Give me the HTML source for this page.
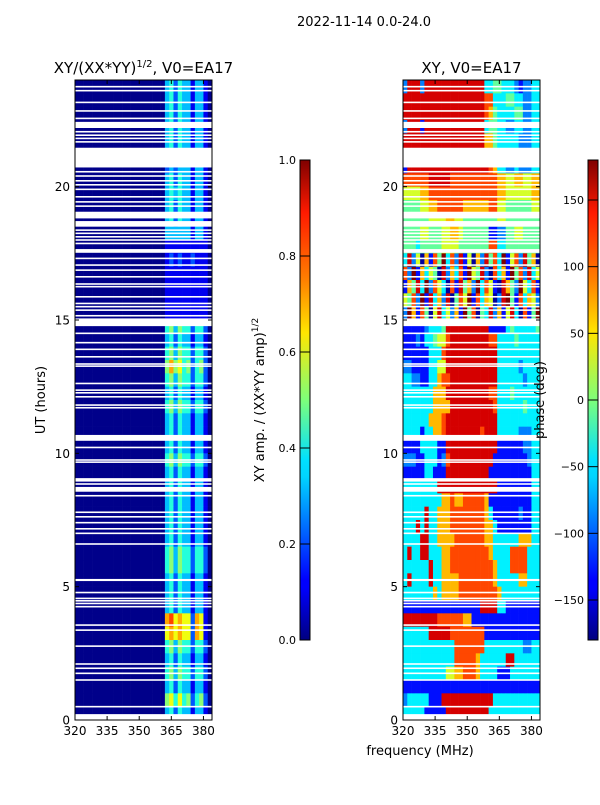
<!DOCTYPE html>
<html><head><meta charset="utf-8"><style>
body{margin:0;background:#fff;}
svg text{font-family:"DejaVu Sans","Liberation Sans",sans-serif;}
</style></head><body>
<svg id="chart" width="600" height="800" xmlns="http://www.w3.org/2000/svg">
<defs>
<linearGradient id="jet" x1="0" y1="1" x2="0" y2="0">
<stop offset="0" stop-color="#000080"/><stop offset="0.11" stop-color="#0000ff"/><stop offset="0.125" stop-color="#0000ff"/>
<stop offset="0.34" stop-color="#00d4ff"/><stop offset="0.375" stop-color="#00e0ff"/><stop offset="0.5" stop-color="#7dff7a"/>
<stop offset="0.64" stop-color="#ffe600"/><stop offset="0.75" stop-color="#ff8000"/><stop offset="0.89" stop-color="#ff1a00"/><stop offset="1" stop-color="#800000"/>
</linearGradient>
</defs>
<text x="364" y="26" font-size="13" text-anchor="middle">2022-11-14 0.0-24.0</text>
<g id="left"></g><g id="right"></g>
</svg>
<script>
const freqStart = 320, freqStep = 2;
const xTicks = [320, 335, 350, 365, 380];
const yTicks = [0, 5, 10, 15, 20];
const ampTicks = [0.0, 0.2, 0.4, 0.6, 0.8, 1.0];
const phaseTicks = [-150, -100, -50, 0, 50, 100, 150];
const Z = "000000000000000000000";
const ampRows = [
Z+"34243313310",Z+"34243313310",Z+"34243313310",Z+"34243313310",Z+"34243313310",Z+"34243313310",
Z+"23233313310",Z+"34243313310",Z+"34343313310",Z+"34243313310",Z+"34243313310",Z+"33333313310",
Z+"11111111110",Z+"12121121110",Z+"11111111110",Z+"11111111110",Z+"11111111110",Z+"11111111110",
Z+"45354424420",Z+"34243313310",Z+"45354424420",Z+"57564524520",Z+"45354424420",Z+"34243313310",
Z+"45354424420",Z+"34243313310",Z+"34243313310",Z+"34243313310",Z+"45354424420",Z+"34243313310",
Z+"34243313310",Z+"34243313310",Z+"34243313310",Z+"34243313310",Z+"34243313310",Z+"45354424420",
Z+"45354424420",Z+"34243313310",Z+"34243313310",Z+"34243313310",Z+"78676627610",Z+"67676627610",
Z+"45354424420",Z+"34243313310",Z+"45354424420",Z+"34243313310",Z+"56464524520",Z+"34243313310"];
const phaseRows = [
"28882888888888888883344333212233","88888888888888888887733344332233","88888888888888888887643333442233",
"28881888888888888883443322332233","88888888888888888886643333322233","88888888888888888886643333322233",
"18888888888888888888763322322233","77777788888777777777776655665566","55556677777777777777776655555566",
"44445566777777666666775544444455","44444455556655444444445544444444","44445544455665444444112244554444",
"44434444455554444444773344444444","38250617493728150628473915728460","72916354082637195482073619472835",
"16483927530718462937510864295371","54729183628047591736502894173652","29617405835261947043826158307149",
"11111233348888888888111134333334","11121334557888888888773333433333","11111133378888888888883333333333",
"22111133558888888888883333323333","33221133677888888888883333332333","33333336668888888888773334333333",
"33333336666888888888873333334333","33333366678888888888883333333333","33331336678888888878883333322233",
"11113333118888888888881111112233","22211333127888888888811111111233","11111331118888888888111111111133",
"33333333888888888888881111111133","33333333366766777776111111111133","33333833666777777776311111121133",
"33383833666777777776631111111133","33338833666677777776633333366633","38338833366777777777633337777333",
"33333383366777777777763337777333","38333383366667777777763333366333","33333336366667777777776333333333",
"11111111111111111188883311111111","88888888777777661111111111111111","33333388888777777771111111111111",
"33333333333377777773333333332233","33333333333377777633333388333333","33333333335566777633331113333333",
"11111111111111111111111111111111","23333311188888888888833333333333","33333111118888888888333333333333"];
const gapBlocks = [[22.2,22.43],[20.72,21.46],[18.81,19.06],[18.5,18.71],[17.52,17.66],[14.77,15.06],[10.47,10.69],[8.94,9.07],[8.56,8.74],[5.21,5.29],[4.75,4.81],[1.47,1.53],[0,0.22]];
const gapLines = [23.75,23.6,23.16,22.84,22.56,22.06,21.93,21.81,21.68,20.56,20.4,20.22,20.07,19.9,19.62,19.43,19.27,18.37,18.25,18.12,18.0,17.87,17.31,17.06,16.87,16.62,16.35,16.25,15.87,15.62,15.5,15.37,15.16,14.5,14.15,13.9,13.62,13.35,13.27,12.62,12.37,12.27,12.12,11.81,11.71,10.22,9.75,9.67,8.85,8.41,7.79,7.62,7.4,7.17,7.0,6.6,4.56,4.47,4.37,4.25,3.56,3.37,2.77,2.1,1.94,1.75,0.5];

const NS="http://www.w3.org/2000/svg";
function mk(tag, attrs, parent){const e=document.createElementNS(NS,tag);for(const k in attrs)e.setAttribute(k,attrs[k]);parent.appendChild(e);return e;}
function jet(v){v=Math.max(0,Math.min(1,v));
 const c=x=>Math.max(0,Math.min(1,x));
 const r=c(1.5-Math.abs(4*v-3)), g=c(1.5-Math.abs(4*v-2)), b=c(1.5-Math.abs(4*v-1));
 return `rgb(${Math.round(r*255)},${Math.round(g*255)},${Math.round(b*255)})`;}
const PT=80, PB=720, fMax=384;
const yScale = h => PB - (h/24)*(PB-PT);
function panel(g, x0, x1, rows, toVal, name, title){
  const xScale = f => x0 + (f-freqStart)/(fMax-freqStart)*(x1-x0);
  const nR=rows.length, dh=24/nR;
  rows.forEach((row,ri)=>{
    const hTop = 24 - ri*dh;
    for(let ci=0;ci<row.length;ci++){
      const f=freqStart+ci*freqStep;
      const r=mk('rect',{x:xScale(f),y:yScale(hTop),width:xScale(f+freqStep)-xScale(f)+0.3,height:yScale(hTop-dh)-yScale(hTop)+0.3,fill:jet(toVal(+row[ci]))},g);
      
      
    }
  });
  gapBlocks.forEach(b=>{const r=mk('rect',{x:x0,y:yScale(b[1]),width:x1-x0,height:yScale(b[0])-yScale(b[1]),fill:'#fff'},g);
    
    });
  gapLines.forEach(h=>{const r=mk('rect',{x:x0,y:yScale(h)-0.8,width:x1-x0,height:1.6,fill:'#fff'},g);
    
    });
  const fr=mk('rect',{x:x0,y:PT,width:x1-x0,height:PB-PT,fill:'none',stroke:'#000','stroke-width':1},g);
  
  
  xTicks.forEach(t=>{const x=xScale(t);mk('line',{x1:x,x2:x,y1:PB,y2:PB-4,stroke:'#000'},g);mk('line',{x1:x,x2:x,y1:PT,y2:PT+4,stroke:'#000'},g);
    const tx=mk('text',{x:x,y:PB+15,'font-size':12,'text-anchor':'middle'},g);tx.textContent=t;
    
    });
  yTicks.forEach(t=>{const y=yScale(t);mk('line',{x1:x0,x2:x0+4,y1:y,y2:y,stroke:'#000'},g);mk('line',{x1:x1,x2:x1-4,y1:y,y2:y,stroke:'#000'},g);
    const tx=mk('text',{x:x0-5,y:y+4.5,'font-size':12,'text-anchor':'end'},g);tx.textContent=t;
    
    });
  const tt=mk('text',{x:(x0+x1)/2,y:73,'font-size':15,'text-anchor':'middle'},g);tt.innerHTML=title;
  
  
}
function colorbar(g, x, ticks, toFrac, name, label, lx){
  const cb=mk('rect',{x:x,y:160,width:10,height:480,fill:'url(#jet)',stroke:'#000','stroke-width':1},g);
  
  
  ticks.forEach(t=>{const y=640-toFrac(t)*480;mk('line',{x1:x,x2:x+10,y1:y,y2:y,stroke:'#000'},g);
    const tx=mk('text',{x:x-4,y:y+4,'font-size':11,'text-anchor':'end'},g);tx.textContent=String(t).replace('-','\u2212');
    
    });
  const lt=mk('text',{x:lx,y:400,'font-size':13,'text-anchor':'middle',transform:`rotate(-90 ${lx} 400)`},g);lt.innerHTML=label;
  
  
}
const L=document.getElementById('left'), R=document.getElementById('right');
panel(L,75,212,ampRows,d=>0.01+d*0.1,'amplitude-heatmap','XY/(XX*YY)<tspan dy="-6" font-size="10">1/2</tspan><tspan dy="6">, V0=EA17</tspan>');
panel(R,403,540,phaseRows,d=>(d*40+10)/360,'phase-heatmap','XY, V0=EA17');
colorbar(L,300,ampTicks.map(t=>t.toFixed(1)),t=>+t,'amplitude-colorbar','XY amp. / (XX*YY amp)<tspan dy="-6" font-size="9">1/2</tspan>',264);
colorbar(R,588,phaseTicks,t=>(t+180)/360,'phase-colorbar','phase (deg)',544);
const yl=mk('text',{x:45,y:400,'font-size':13,'text-anchor':'middle',transform:'rotate(-90 45 400)'},L);yl.textContent='UT (hours)';


const xl=mk('text',{x:420,y:755,'font-size':13,'text-anchor':'middle'},R);xl.textContent='frequency (MHz)';


</script>
</body></html>
